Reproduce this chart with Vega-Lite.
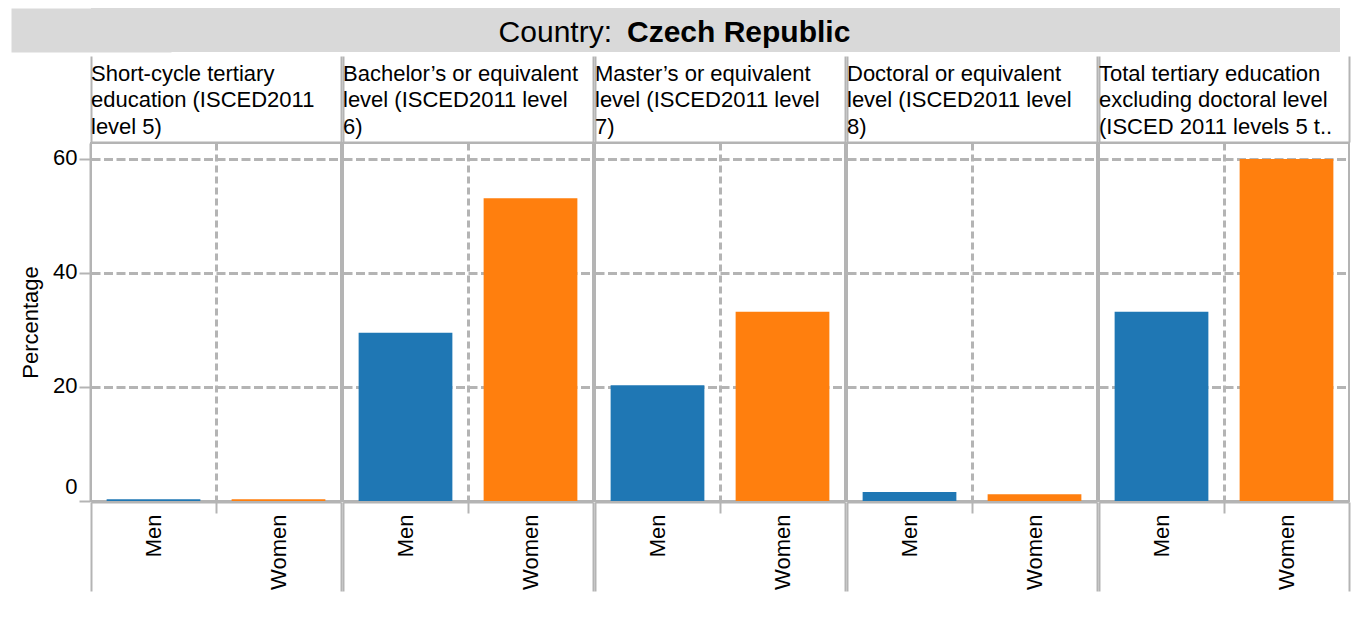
{
  "$schema": "https://vega.github.io/schema/vega-lite/v6.json",
  "padding": {"left": 19, "top": 8, "right": 5, "bottom": 5},
  "spacing": 3,
  "config": {
    "font": "Liberation Sans",
    "view": {"stroke": "#b4b4b4", "strokeWidth": 2},
    "axis": {
      "labelFont": "Liberation Sans", "labelFontSize": 22, "labelColor": "#000",
      "titleFont": "Liberation Sans", "titleFontSize": 22, "titleFontWeight": "normal", "titleColor": "#000",
      "domainColor": "#b4b4b4", "domainWidth": 2, "tickColor": "#b4b4b4", "tickWidth": 2, "gridColor": "#b4b4b4", "gridOpacity": 1
    }
  },
  "vconcat": [
    {
      "width": 1249, "height": 44,
      "view": {"fill": "#d9d9d9", "stroke": null},
      "data": {"values": [{"prefix": "Country:", "country": "Czech Republic"}]},
      "encoding": {
        "y": {
          "datum": 0.5, "type": "quantitative", "scale": {"domain": [0, 1]},
          "axis": {"title": null, "labels": false, "ticks": false, "grid": false, "domain": true, "domainWidth": 160, "domainColor": "#d9d9d9"}
        }
      },
      "layer": [
        {"mark": {"type": "text", "align": "right", "baseline": "alphabetic", "dx": -103.5, "dy": 12, "fontSize": 30, "font": "Liberation Sans", "color": "#000"},
         "encoding": {"text": {"field": "prefix"}}},
        {"mark": {"type": "text", "align": "left", "baseline": "alphabetic", "dx": -88.5, "dy": 12, "fontSize": 30, "fontWeight": "bold", "font": "Liberation Sans", "color": "#000"},
         "encoding": {"text": {"field": "country"}}}
      ]
    },
    {
      "data": {"values": [
        {"level": "Short-cycle tertiary education (ISCED2011 level 5)", "sex": "Men", "value": 0.3},
        {"level": "Short-cycle tertiary education (ISCED2011 level 5)", "sex": "Women", "value": 0.3},
        {"level": "Bachelor’s or equivalent level (ISCED2011 level 6)", "sex": "Men", "value": 29.5},
        {"level": "Bachelor’s or equivalent level (ISCED2011 level 6)", "sex": "Women", "value": 53.1},
        {"level": "Master’s or equivalent level (ISCED2011 level 7)", "sex": "Men", "value": 20.3},
        {"level": "Master’s or equivalent level (ISCED2011 level 7)", "sex": "Women", "value": 33.2},
        {"level": "Doctoral or equivalent level  (ISCED2011 level 8)", "sex": "Men", "value": 1.6},
        {"level": "Doctoral or equivalent level  (ISCED2011 level 8)", "sex": "Women", "value": 1.2},
        {"level": "Total tertiary education excluding doctoral level (ISCED 2011 levels 5 to 7)", "sex": "Men", "value": 33.2},
        {"level": "Total tertiary education excluding doctoral level (ISCED 2011 levels 5 to 7)", "sex": "Women", "value": 60.0}
      ]},
      "spacing": 0,
      "facet": {
        "column": {
          "field": "level", "type": "nominal", "title": null,
          "sort": [
            "Short-cycle tertiary education (ISCED2011 level 5)",
            "Bachelor’s or equivalent level (ISCED2011 level 6)",
            "Master’s or equivalent level (ISCED2011 level 7)",
            "Doctoral or equivalent level  (ISCED2011 level 8)",
            "Total tertiary education excluding doctoral level (ISCED 2011 levels 5 to 7)"
          ],
          "header": {
            "labelExpr": "datum.value == 'Short-cycle tertiary education (ISCED2011 level 5)' ? ['Short-cycle tertiary', 'education (ISCED2011', 'level 5)'] : datum.value == 'Bachelor’s or equivalent level (ISCED2011 level 6)' ? ['Bachelor’s or equivalent', 'level (ISCED2011 level', '6)'] : datum.value == 'Master’s or equivalent level (ISCED2011 level 7)' ? ['Master’s or equivalent', 'level (ISCED2011 level', '7)'] : datum.value == 'Doctoral or equivalent level  (ISCED2011 level 8)' ? ['Doctoral or equivalent', 'level  (ISCED2011 level', '8)'] : ['Total tertiary education', 'excluding doctoral level', '(ISCED 2011 levels 5 t..']",
            "labelAnchor": "start", "labelAlign": "left",
            "labelFont": "Liberation Sans", "labelFontSize": 22, "labelColor": "#000",
            "labelLineHeight": 26.7, "labelLimit": 0, "labelPadding": -84
          }
        }
      },
      "spec": {
        "width": 250, "height": 358,
        "layer": [
          {
            "mark": {"type": "bar", "width": {"band": 0.75}},
            "encoding": {
              "x": {
                "field": "sex", "type": "nominal", "sort": ["Men", "Women"],
                "scale": {"paddingInner": 0, "paddingOuter": 0},
                "axis": {
                  "orient": "bottom", "title": null, "labelAngle": 270, "tickBand": "extent",
                  "tickSize": {"condition": {"test": "datum.value === 'Men'", "value": 11}, "value": 89},
                  "labelPadding": {"condition": {"test": "datum.value === 'Men'", "value": 1}, "value": -77},
                  "grid": true,
                  "gridWidth": {"condition": {"test": "datum.value === 'Men'", "value": 3}, "value": 1},
                  "gridDash": {"condition": {"test": "datum.value === 'Men'", "value": [7, 4]}, "value": [4, 3]}
                }
              },
              "y": {
                "field": "value", "type": "quantitative",
                "scale": {"domain": [0, 62.8], "nice": false},
                "axis": {
                  "title": "Percentage", "values": [0, 20, 40, 60], "tickSize": 11,
                  "labelPadding": 2, "titlePadding": 10, "grid": true, "gridWidth": 3, "gridDash": [9, 3.5],
                  "labelBaseline": {"condition": {"test": "datum.value === 0", "value": "bottom"}, "value": "middle"},
                  "labelOffset": {"condition": {"test": "datum.value === 0", "value": -3}, "value": -1}
                }
              },
              "color": {
                "field": "sex", "type": "nominal",
                "scale": {"domain": ["Men", "Women"], "range": ["#1f77b4", "#ff7f0e"]},
                "legend": null
              }
            }
          },
          {
            "mark": {"type": "bar", "opacity": 0, "width": {"band": 0.75}},
            "encoding": {
              "x": {
                "field": "sex", "type": "nominal", "sort": ["Men", "Women"],
                "axis": {
                  "orient": "top", "title": null, "labels": false, "tickBand": "extent", "tickSize": 86,
                  "tickOpacity": {"condition": {"test": "datum.value === 'Men'", "value": 0}, "value": 1},
                  "grid": false
                }
              },
              "y": {"field": "value", "type": "quantitative"}
            }
          }
        ],
        "resolve": {"axis": {"x": "independent"}}
      }
    }
  ]
}
